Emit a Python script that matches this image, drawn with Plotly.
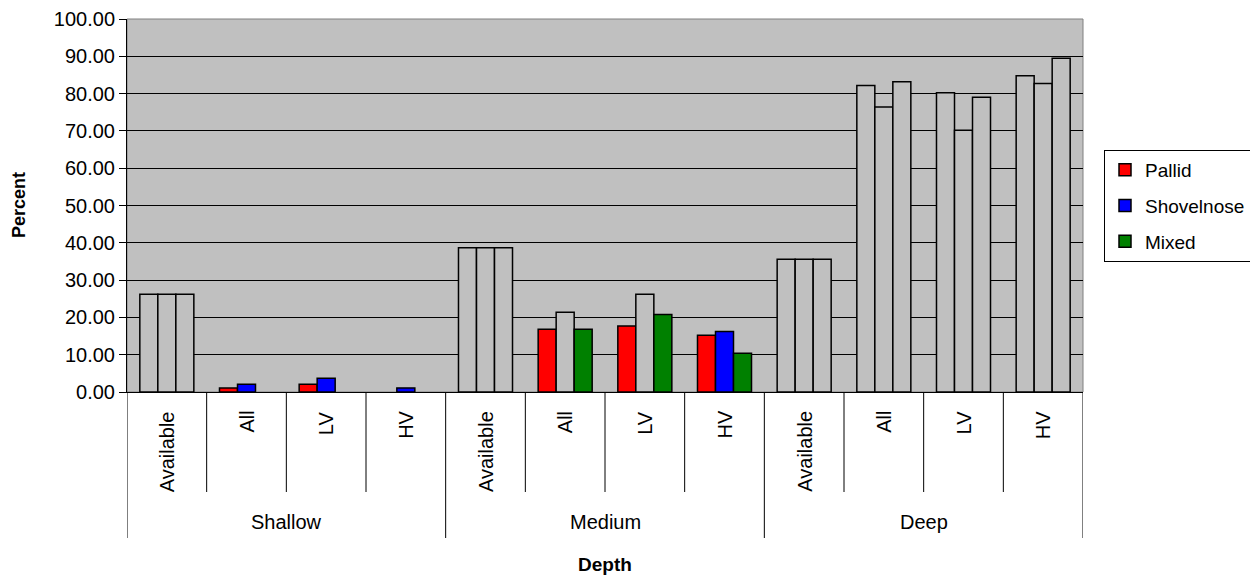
import plotly.graph_objects as go

# ---- data ----
groups = ["Shallow", "Medium", "Deep"]
subs = ["Available", "All", "LV", "HV"]
series_names = ["Pallid", "Shovelnose", "Mixed"]
series_colors = ["#FF0000", "#0000FF", "#008000"]

pallid = [26.2, 1.07, 2.1, 0.0, 38.7, 16.8, 17.7, 15.2, 35.6, 82.2, 80.2, 84.8]
shovelnose = [26.2, 2.1, 3.7, 1.1, 38.7, 21.4, 26.2, 16.2, 35.6, 76.4, 70.2, 82.7]
mixed = [26.2, 0.0, 0.0, 0.0, 38.7, 16.8, 20.8, 10.4, 35.6, 83.2, 79.0, 89.5]

# points drawn as outline-only (background-filled) bars
pallid_outline = [True, False, False, False, True, False, False, False, True, True, True, True]
shovelnose_outline = [True, False, False, False, True, True, True, False, True, True, True, True]
mixed_outline = [True, False, False, False, True, False, False, False, True, True, True, True]

categories = [f"{g} {s}" for g in groups for s in subs]

BG = "#C0C0C0"
FONT = "Liberation Sans, Arial, sans-serif"

fig = go.Figure()

values = [pallid, shovelnose, mixed]
outlines = [pallid_outline, shovelnose_outline, mixed_outline]
offsets = [-0.339, -0.113, 0.113]
bw = 0.226

for name, color, vals, outl, off in zip(series_names, series_colors, values, outlines, offsets):
    colored = [v if (not o and v) else None for v, o in zip(vals, outl)]
    grayed = [v if (o and v) else None for v, o in zip(vals, outl)]
    fig.add_trace(go.Bar(
        x=categories, y=grayed, name=name, showlegend=False,
        offset=off, width=bw,
        marker=dict(color=BG, line=dict(color="black", width=1.5)),
        hoverinfo="skip",
    ))
    fig.add_trace(go.Bar(
        x=categories, y=colored, name=name, legendgroup=name,
        offset=off, width=bw,
        marker=dict(color=color, line=dict(color="black", width=1.5)),
    ))

# plot area frame
shapes = [dict(type="rect", xref="paper", yref="paper", x0=0, x1=1, y0=0, y1=1,
               line=dict(color="#808080", width=1), layer="below")]

# category dividers
sub_bottom = -(492 - 392) / 373
grp_bottom = -(538 - 392) / 373
n = len(categories)
for i in range(n + 1):
    xpos = i - 0.5
    is_group = (i % len(subs) == 0)
    shapes.append(dict(type="line", xref="x", yref="paper", x0=xpos, x1=xpos,
                       y0=0, y1=grp_bottom if is_group else sub_bottom,
                       line=dict(color="black", width=1)))

annotations = []
for i, c in enumerate(categories):
    s = subs[i % len(subs)]
    annotations.append(dict(x=c, y=-(409 - 392) / 373, xref="x", yref="paper",
                            text=s, textangle=-90, showarrow=False,
                            xanchor="center", yanchor="top",
                            font=dict(family=FONT, size=20, color="black")))
for gi, g in enumerate(groups):
    annotations.append(dict(x=gi * len(subs) + 1.5, y=-(522 - 392) / 373, xref="x", yref="paper",
                            text=g, showarrow=False, xanchor="center", yanchor="middle",
                            font=dict(family=FONT, size=20, color="black")))

annotations.append(dict(x=0.5, y=-(564 - 392) / 373, xref="paper", yref="paper",
                        text="<b>Depth</b>", showarrow=False, xanchor="center", yanchor="middle",
                        font=dict(family=FONT, size=19, color="black")))
annotations.append(dict(x=(18.5 - 127) / 956, y=0.5, xref="paper", yref="paper",
                        text="<b>Percent</b>", textangle=-90, showarrow=False,
                        xanchor="center", yanchor="middle",
                        font=dict(family=FONT, size=18, color="black")))

# page body has an 8px default margin, so the figure is 8px smaller and shifted
fig.update_layout(
    width=1250, height=570,
    margin=dict(l=119, r=175, t=11, b=186, autoexpand=False),
    paper_bgcolor="white", plot_bgcolor=BG,
    barmode="overlay",
    font=dict(family=FONT, size=20, color="black"),
    showlegend=True,
    legend=dict(x=(1104 - 127) / 956, y=(392 - 150) / 373, xanchor="left", yanchor="top",
                bordercolor="black", borderwidth=1, bgcolor="white",
                font=dict(family=FONT, size=19, color="black"),
                tracegroupgap=8, itemwidth=30),
    shapes=shapes,
    annotations=annotations,
)
fig.update_xaxes(type="category", categoryorder="array", categoryarray=categories,
                 range=[-0.5, n - 0.5], showticklabels=False, ticks="",
                 showgrid=False, showline=True, linecolor="black", linewidth=1, zeroline=False)
fig.update_yaxes(range=[0, 100], dtick=10, tickformat=".2f", ticks="outside", ticklen=7,
                 tickcolor="black", showgrid=True, gridcolor="black", gridwidth=1,
                 showline=True, linecolor="black", linewidth=1, zeroline=False,
                 tickfont=dict(family=FONT, size=20, color="black"))

fig.write_html("out.html")
